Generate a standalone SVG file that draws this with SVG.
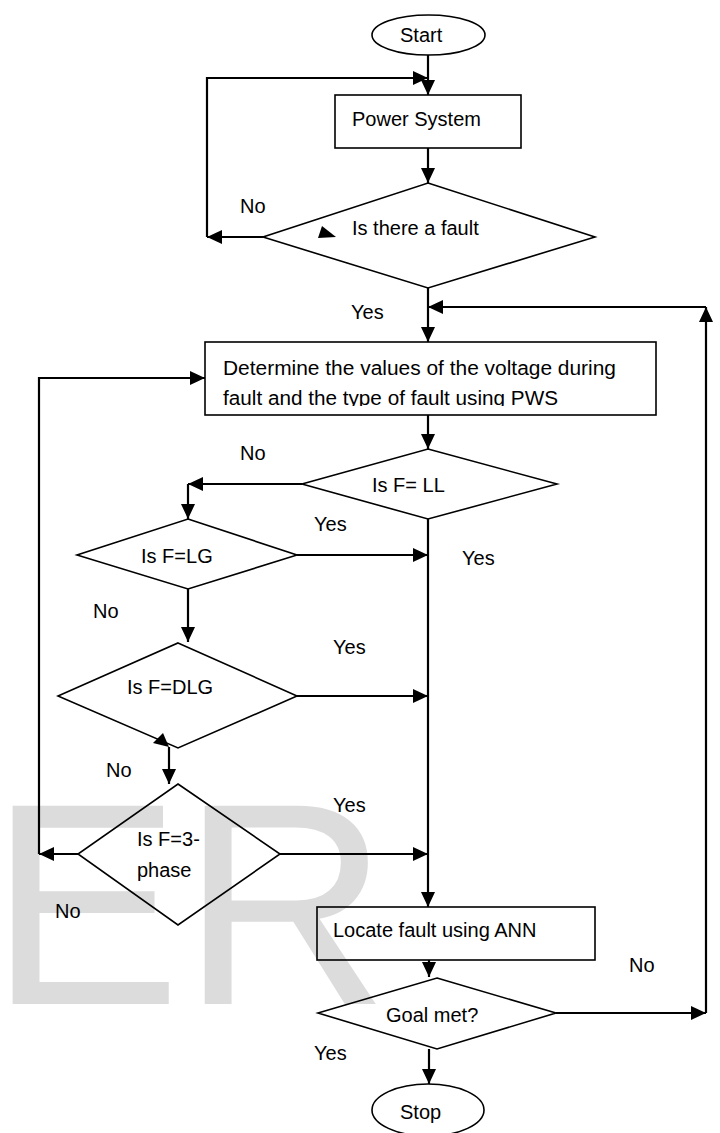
<svg xmlns="http://www.w3.org/2000/svg" width="720" height="1133" viewBox="0 0 720 1133">
<style>
.shape{fill:none;stroke:#000;stroke-width:1.6}
.con{fill:none;stroke:#000;stroke-width:2.2;marker-end:url(#ah)}
.t{font-family:"Liberation Sans",Arial,sans-serif;font-size:20px;fill:#000}
.wm{font-family:"Liberation Sans",Arial,sans-serif;font-size:288px;fill:#dcdcdc}
</style>
<defs>
<marker id="ah" markerUnits="userSpaceOnUse" markerWidth="15" markerHeight="14" viewBox="0 0 15 14" refX="15" refY="7" orient="auto">
<path d="M0,0 L15,7 L0,14 z" fill="#000"/>
</marker>
<clipPath id="detclip"><rect x="205" y="342" width="451" height="64"/></clipPath>
</defs>
<rect width="720" height="1133" fill="#fff"/>
<text class="wm" x="-11" y="1004">ER</text>

<g id="connectors">
<path class="con" d="M428,55 V95"/>
<path class="con" d="M263,237 H207"/>
<path class="con" d="M207,237 V78 H428"/>
<path class="con" d="M428,148 V183"/>
<path class="con" d="M428,288 V342"/>
<path class="con" d="M428,415 V449"/>
<path class="con" d="M302,484 H188"/>
<path class="con" d="M188,484 V519"/>
<path class="con" d="M428,519 V907"/>
<path class="con" d="M297,555 H428"/>
<path class="con" d="M188,589 V642"/>
<path class="con" d="M297,696 H428"/>
<path class="con" d="M169,747 V784"/>
<path class="con" d="M280,854 H428"/>
<path class="con" d="M78,854 H39"/>
<path class="con" d="M39,854 V378 H205"/>
<path class="con" d="M429,960 V977"/>
<path class="con" d="M556,1013 H706"/>
<path class="con" d="M706,1013 V307"/>
<path class="con" d="M706,307 H428"/>
<path class="con" d="M429,1049 V1084"/>
</g>

<g id="start">
<ellipse class="shape" cx="428.5" cy="35" rx="56.5" ry="20"/>
<text class="t" x="400" y="42">Start</text>
</g>
<g id="power-system">
<rect class="shape" x="335" y="95" width="186" height="53"/>
<text class="t" x="352" y="126">Power System</text>
</g>
<g id="is-fault">
<polygon class="shape" points="428,183 595,237 428,288 263,237"/>
<polygon points="322,226 336,237 318,238" fill="#000"/>
<text class="t" x="352" y="235">Is there a fault</text>
</g>
<g id="determine">
<rect class="shape" x="205" y="342" width="451" height="73"/>
<g clip-path="url(#detclip)">
<text class="t" x="223" y="375" textLength="393" lengthAdjust="spacingAndGlyphs">Determine the values of the voltage during</text>
<text class="t" x="223" y="405" textLength="335" lengthAdjust="spacingAndGlyphs">fault and the type of fault using PWS</text>
</g>
</g>
<g id="is-ll">
<polygon class="shape" points="428,449 557,484 428,519 302,484"/>
<text class="t" x="372" y="492">Is F= LL</text>
</g>
<g id="is-lg">
<polygon class="shape" points="188,519 297,555 188,589 77,555"/>
<text class="t" x="141" y="563">Is F=LG</text>
</g>
<g id="is-dlg">
<polygon class="shape" points="178,643 297,696 178,748 58,696"/>
<polygon points="153,743 163,733 169,747" fill="#000"/>
<text class="t" x="127" y="694">Is F=DLG</text>
</g>
<g id="is-3phase">
<polygon class="shape" points="178,784 280,854 178,925 78,854"/>
<text class="t" x="137" y="846">Is F=3-</text>
<text class="t" x="137" y="877">phase</text>
</g>
<g id="locate">
<rect class="shape" x="317" y="907" width="278" height="53"/>
<text class="t" x="333" y="937">Locate fault using ANN</text>
</g>
<g id="goal">
<polygon class="shape" points="437,978 556,1013 437,1049 318,1013"/>
<text class="t" x="386" y="1022">Goal met?</text>
</g>
<g id="stop">
<ellipse class="shape" cx="428" cy="1110" rx="56" ry="26"/>
<text class="t" x="400" y="1119">Stop</text>
</g>

<g id="labels">
<text class="t" x="240" y="213">No</text>
<text class="t" x="351" y="319">Yes</text>
<text class="t" x="240" y="460">No</text>
<text class="t" x="314" y="531">Yes</text>
<text class="t" x="462" y="565">Yes</text>
<text class="t" x="93" y="618">No</text>
<text class="t" x="333" y="654">Yes</text>
<text class="t" x="106" y="777">No</text>
<text class="t" x="333" y="812">Yes</text>
<text class="t" x="55" y="918">No</text>
<text class="t" x="629" y="972">No</text>
<text class="t" x="314" y="1060">Yes</text>
</g>
</svg>
